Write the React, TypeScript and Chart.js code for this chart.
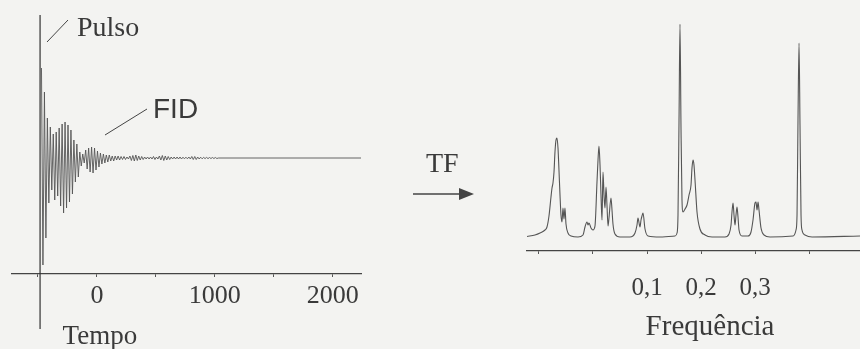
import React, { useEffect, useRef } from 'react';
import { Chart, registerables } from 'chart.js';

Chart.register(...registerables);

// ---------- Left panel: FID (signal vs time) ----------
const timeMin = -720;
const timeMax = 2240;
const timeTicks = [-500, 0, 500, 1000, 1500, 2000];
const timeTickLabels = ['', '0', '', '1000', '', '2000'];
const timeTitleAt = 25;
const pulseTime = -482;
const fidStart = -470;
const fidStep = 12.5;
// successive half-cycle extremes of the free induction decay
const fidValues = [
  90, -107, 66, -80,
  40, -45, 31, -32,
  24, -42, 26, -38,
  30, -48, 34, -55, 36, -50, 33, -44, 28, -36,
  18, -24, 14, -19,
  6, -8, 4, -5,
  8, -11, 10, -14, 11, -15, 10, -12, 7, -9,
  5, -6, 4, -5, 3, -4, 3, -3, 2, -3,
  2, -2, 2, -2, 1.5, -1.5, 1.5, -1.5, 1, -1,
  2, -2.5, 2.5, -3, 3, -2.5, 2, -2, 1.5, -1.5,
  1, -1, 1, -1, 1, -1, 1.5, -1.5, 1, -1,
  2, -2, 2.5, -2.5, 2, -2, 1.5, -1.5, 1, -1,
  1, -1, 1, -1, 1, -1, 0.8, -0.8, 0.8, -0.8,
  1, -1, 1.5, -1.5, 1.5, -1.5, 1, -1, 0.8, -0.8,
  0.6, -0.6, 0.6, -0.6, 0.5, -0.5, 0.5, -0.5, 0.5, -0.5,
  0,
];
const fidMin = -116;
const fidMax = 143;
const pulseBottom = -171;

// ---------- Right panel: spectrum (intensity vs frequency) ----------
const freqMin = -0.1222;
const freqMax = 0.4944;
const freqTicks = [-0.1, 0, 0.1, 0.2, 0.3, 0.4];
const freqTickLabels = ['', '', '0,1', '0,2', '0,3', ''];
const freqTitleAt = 0.2167;
const freq = [
  -0.1222, -0.1074, -0.0981, -0.0889, -0.0852, -0.0815, -0.0778, -0.0759, -0.0741, -0.0722,
  -0.0704, -0.0685, -0.0667, -0.0648, -0.063, -0.0611, -0.0593, -0.0574, -0.0556, -0.0537,
  -0.0519, -0.05, -0.0463, -0.0407, -0.0278, -0.0185, -0.0148, -0.0111, -0.0093, -0.0074,
  -0.0037, 0, 0.0037, 0.0074, 0.0093, 0.0111, 0.013, 0.0148, 0.0167, 0.0185,
  0.0204, 0.0222, 0.0241, 0.0259, 0.0278, 0.0296, 0.0333, 0.0352, 0.037, 0.0407,
  0.05, 0.0685, 0.0778, 0.0815, 0.0833, 0.087, 0.0889, 0.0907, 0.0926, 0.0963,
  0.1019, 0.1241, 0.1519, 0.1556, 0.1574, 0.1593, 0.1611, 0.163, 0.1648, 0.1667,
  0.1704, 0.1741, 0.1778, 0.1815, 0.1833, 0.1852, 0.187, 0.1889, 0.1926, 0.1981,
  0.2074, 0.2204, 0.2444, 0.2519, 0.2556, 0.2574, 0.2593, 0.2611, 0.263, 0.2648,
  0.2667, 0.2685, 0.2704, 0.2759, 0.287, 0.2926, 0.2963, 0.3, 0.3019, 0.3037,
  0.3056, 0.3074, 0.3111, 0.3167, 0.3278, 0.3704, 0.3759, 0.3778, 0.3796, 0.3815,
  0.3833, 0.3852, 0.387, 0.3926, 0.4056, 0.4944,
];
const intensity = [
  0.5, 2, 4, 7, 10, 21, 40, 49, 54, 65,
  85, 97, 99, 89, 67, 42, 22, 15, 29, 18,
  29, 13, 4, 1, 0, 2, 10, 15, 12, 14,
  9, 7, 11, 55, 77, 91, 72, 42, 17, 65,
  42, 29, 50, 32, 11, 19, 39, 27, 13, 3,
  0, 0, 4, 12, 19, 10, 17, 21, 24, 8,
  1, 0, 1, 4, 22, 117, 213, 107, 37, 25,
  28, 32, 42, 52, 69, 77, 72, 57, 25, 8,
  2, 0, 0, 3, 12, 25, 34, 22, 12, 22,
  30, 20, 7, 1, 1, 5, 17, 34, 35, 27,
  35, 27, 9, 2, 0, 1, 7, 22, 117, 194,
  112, 22, 7, 2, 0, 1,
];
const specMin = -14;
const specMax = 227;

// ---------- Annotations ----------
const pulseLabel = 'Pulso';
const fidLabel = 'FID';
const transformLabel = 'TF';
const timeTitle = 'Tempo';
const freqTitle = 'Frequência';

const ink = '#3a3a3a';
const lineInk = '#555555';
const serif = '"Liberation Serif", "Times New Roman", serif';
const sans = '"Liberation Sans", Arial, sans-serif';

const leftAnnotations = {
  id: 'leftAnnotations',
  afterDraw(chart: any) {
    const ctx = chart.ctx as CanvasRenderingContext2D;
    ctx.save();
    ctx.strokeStyle = '#444';
    ctx.fillStyle = ink;
    ctx.lineWidth = 1;
    const seg = (x1: number, y1: number, x2: number, y2: number) => {
      ctx.beginPath();
      ctx.moveTo(x1, y1);
      ctx.lineTo(x2, y2);
      ctx.stroke();
    };
    ctx.textBaseline = 'alphabetic';
    ctx.textAlign = 'left';
    // "Pulso" pointer
    seg(47, 42, 68, 20);
    ctx.font = `28px ${serif}`;
    ctx.fillText(pulseLabel, 77, 36);
    // "FID" pointer
    seg(105, 135, 147, 109);
    ctx.font = `28px ${sans}`;
    ctx.fillText(fidLabel, 153, 118);
    // axis title
    ctx.textAlign = 'center';
    ctx.font = `27px ${serif}`;
    ctx.fillText(timeTitle, chart.scales.x.getPixelForValue(timeTitleAt), 344);
    // "TF" arrow
    ctx.textAlign = 'left';
    ctx.font = `28px ${serif}`;
    ctx.fillText(transformLabel, 426, 172);
    ctx.lineWidth = 1.5;
    seg(413, 194, 462, 194);
    ctx.beginPath();
    ctx.moveTo(474, 194);
    ctx.lineTo(459, 188);
    ctx.lineTo(459, 200);
    ctx.closePath();
    ctx.fillStyle = '#444';
    ctx.fill();
    ctx.restore();
  },
};

const rightAnnotations = {
  id: 'rightAnnotations',
  afterDraw(chart: any) {
    const ctx = chart.ctx as CanvasRenderingContext2D;
    ctx.save();
    ctx.fillStyle = ink;
    ctx.textBaseline = 'alphabetic';
    ctx.textAlign = 'center';
    ctx.font = `29px ${serif}`;
    ctx.fillText(freqTitle, chart.scales.x.getPixelForValue(freqTitleAt), 335);
    ctx.restore();
  },
};

function LeftChart() {
  const ref = useRef<HTMLCanvasElement>(null);
  useEffect(() => {
    const points = fidValues.map((v, i) => ({ x: fidStart + i * fidStep, y: v }));
    points.push({ x: timeMax, y: 0 });
    const chart = new Chart(ref.current!, {
      type: 'line',
      data: {
        datasets: [
          {
            data: points,
            borderColor: lineInk,
            borderWidth: 0.9,
            pointRadius: 0,
            tension: 0,
          },
          {
            data: [
              { x: pulseTime, y: fidMax },
              { x: pulseTime, y: pulseBottom },
            ],
            borderColor: '#333',
            borderWidth: 1.2,
            pointRadius: 0,
            clip: false as any,
          },
        ],
      },
      options: {
        animation: false,
        responsive: false,
        devicePixelRatio: 1,
        layout: { padding: { left: 12, right: 139, top: 15, bottom: 0 } },
        plugins: { legend: { display: false }, tooltip: { enabled: false } },
        scales: {
          x: {
            type: 'linear',
            min: timeMin,
            max: timeMax,
            afterBuildTicks: (s: any) => {
              s.ticks = timeTicks.map((v) => ({ value: v }));
            },
            afterFit: (s: any) => {
              s.height = 75;
            },
            border: { display: true, color: '#444', width: 1.3 },
            grid: { drawOnChartArea: false, drawTicks: true, tickLength: 3, color: '#555' },
            ticks: {
              autoSkip: false,
              maxRotation: 0,
              padding: 6.5,
              color: ink,
              font: { family: serif, size: 26, lineHeight: 1 },
              callback: (_v: any, i: number) => timeTickLabels[i],
            },
          },
          y: { type: 'linear', display: false, min: fidMin, max: fidMax },
        },
      },
      plugins: [leftAnnotations],
    });
    return () => chart.destroy();
  }, []);
  return (
    <canvas
      ref={ref}
      width={500}
      height={349}
      style={{ position: 'absolute', left: 0, top: 0, width: 500, height: 349 }}
    />
  );
}

function RightChart() {
  const ref = useRef<HTMLCanvasElement>(null);
  useEffect(() => {
    const points = freq.map((f, i) => ({ x: f, y: intensity[i] }));
    const chart = new Chart(ref.current!, {
      type: 'line',
      data: {
        datasets: [
          {
            data: points,
            borderColor: lineInk,
            borderWidth: 1.1,
            pointRadius: 0,
            cubicInterpolationMode: 'monotone',
          },
        ],
      },
      options: {
        animation: false,
        responsive: false,
        devicePixelRatio: 1,
        layout: { padding: { left: 27, right: 0, top: 10, bottom: 0 } },
        plugins: { legend: { display: false }, tooltip: { enabled: false } },
        scales: {
          x: {
            type: 'linear',
            min: freqMin,
            max: freqMax,
            afterBuildTicks: (s: any) => {
              s.ticks = freqTicks.map((v) => ({ value: v }));
            },
            afterFit: (s: any) => {
              s.height = 98;
            },
            border: { display: true, color: '#444', width: 1.3 },
            grid: { drawOnChartArea: false, drawTicks: true, tickLength: 3, color: '#555' },
            ticks: {
              autoSkip: false,
              maxRotation: 0,
              padding: 22,
              color: ink,
              font: { family: serif, size: 25, lineHeight: 1 },
              callback: (_v: any, i: number) => freqTickLabels[i],
            },
          },
          y: { type: 'linear', display: false, min: specMin, max: specMax },
        },
      },
      plugins: [rightAnnotations],
    });
    return () => chart.destroy();
  }, []);
  return (
    <canvas
      ref={ref}
      width={360}
      height={349}
      style={{ position: 'absolute', left: 500, top: 0, width: 360, height: 349 }}
    />
  );
}

export default function App() {
  return (
    <div
      style={{
        position: 'absolute',
        left: 0,
        top: 0,
        width: 860,
        height: 349,
        background: '#f3f3f1',
        overflow: 'hidden',
      }}
    >
      <LeftChart />
      <RightChart />
    </div>
  );
}
